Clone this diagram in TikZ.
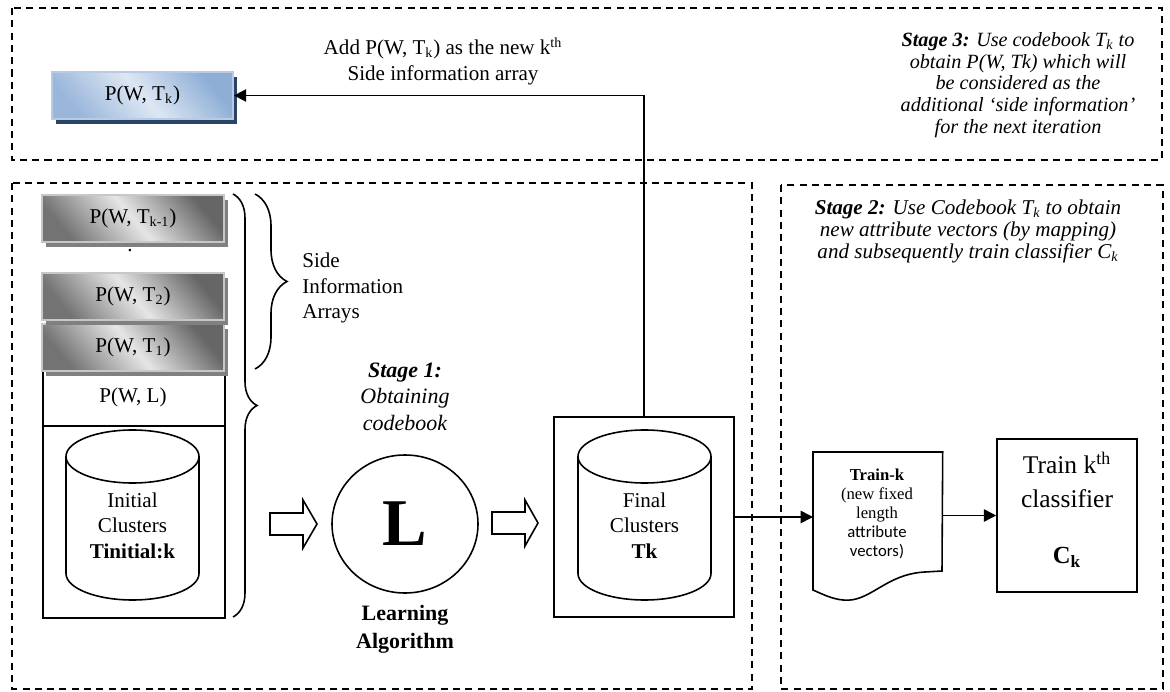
\documentclass[tikz,border=0pt]{standalone}
\usepackage{fontspec}
\setmainfont{Liberation Serif}
\newfontfamily\calibri{Carlito}
\usetikzlibrary{arrows.meta,shadows,decorations.pathreplacing,shapes.geometric}
\definecolor{navy}{HTML}{2A4468}
\definecolor{bluedark}{HTML}{8EAED6}
\definecolor{bluelight}{HTML}{DDE7F3}
\definecolor{blueborder}{HTML}{B7CBE4}
\begin{document}
\begin{tikzpicture}[x=0.02cm,y=-0.02cm,
  dashbox/.style={draw,line width=0.7pt,dash pattern=on 4pt off 3pt},
  blk/.style={draw,line width=0.9pt},
  arr/.style={line width=0.9pt,-{Triangle[length=7pt,width=7pt]}},
  hollow/.style={draw,line width=0.9pt,fill=white},
  txt/.style={align=center,inner sep=0pt,font=\fontsize{12}{14.5}\selectfont},
  bluebox/.style={draw=blueborder,line width=1pt,minimum width=181*0.02cm,minimum height=47*0.02cm,
    top color=bluedark,bottom color=bluedark!85!bluelight,middle color=bluelight,shading angle=-50,
    general shadow={fill=navy,shadow xshift=2pt,shadow yshift=-3pt},
    font=\fontsize{12}{14}\selectfont,inner sep=0pt},
  graybox/.style={draw=black!22,line width=1pt,minimum width=182*0.02cm,minimum height=47*0.02cm,
    top color=black!60,bottom color=black!55,middle color=black!10,shading angle=-50,
    general shadow={fill=black!50,shadow xshift=2pt,shadow yshift=-3pt},
    font=\fontsize{12}{14}\selectfont,inner sep=0pt},
  plainbox/.style={blk,fill=white,inner sep=0pt}
]
\useasboundingbox (0,0) rectangle (1170,692);

% stage frames
\draw[dashbox] (12,8) rectangle (1162,160);
\draw[dashbox] (12,183) rectangle (752,689);
\draw[dashbox] (781,185) rectangle (1163,689);

% top: new side information array
\node[bluebox] (pk) at (142.5,95.5) {P(W, T\textsubscript{k})};
\node[txt] (addtxt) at (443,61) {Add P(W, T\textsubscript{k}) as the new k\textsuperscript{th}\\Side information array};
\node[txt,font=\itshape\fontsize{11.5}{12.4}\selectfont] (s3) at (1018,85)
  {\textbf{Stage 3:} Use codebook \textit{T}\textsubscript{\textit{k}} to\\obtain P(W, Tk) which will\\be considered as the\\additional ‘side information’\\for the next iteration};

% left stack
\node[plainbox,minimum width=182*0.02cm,minimum height=248*0.02cm,anchor=north west] (stack) at (42,369) {};
\draw[blk] (42,426) -- (224,426);
\node[txt] (pwl) at (133,397.5) {P(W, L)};
\node[graybox] (t1) at (133,347.5) {P(W, T\textsubscript{1})};
\node[graybox] (t2) at (133,296.5) {P(W, T\textsubscript{2})};
\node[graybox] (tk1) at (133,218.5) {P(W, T\textsubscript{k-1})};
\node[txt] (dot) at (130,251) {.};

% initial clusters cylinder
\draw[blk,fill=white] (66,456.5) -- (66,573.5) arc[start angle=180,end angle=0,x radius=66.5,y radius=26.5] -- (199,456.5);
\draw[blk] (132.5,456.5) ellipse[x radius=66.5,y radius=26.5];
\node[txt] (initc) at (132.5,525.5) {Initial\\Clusters\\\textbf{Tinitial:k}};

% braces
\draw[line width=0.9pt,decorate,decoration={brace,amplitude=32*0.02cm}] (255,194) -- (255,369);
\node[txt,align=left,anchor=west] (side) at (302,288) {Side\\Information\\Arrays};
\draw[line width=0.9pt,decorate,decoration={brace,amplitude=24*0.02cm}] (233,194) -- (233,617);

% stage 1
\draw[hollow] (270,513) -- (303,513) -- (303,500) -- (317,524) -- (303,548) -- (303,535) -- (270,535) -- cycle;
\node[draw,line width=0.9pt,ellipse,minimum width=146*0.02cm,minimum height=138*0.02cm,inner sep=0pt] (L) at (405,524)
  {\fontsize{38}{38}\selectfont\textbf{L}};
\node[txt,font=\itshape\fontsize{12.5}{15}\selectfont] (s1) at (405,396.5) {\textbf{Stage 1:}\\Obtaining\\codebook};
\node[txt,font=\bfseries\fontsize{12.5}{16}\selectfont] (la) at (405,629) {Learning\\Algorithm};
\draw[hollow] (492,512) -- (525,512) -- (525,500) -- (538,523) -- (525,546) -- (525,534) -- (492,534) -- cycle;

% final clusters
\node[plainbox,minimum width=180*0.02cm,minimum height=200*0.02cm] (final) at (644,517) {};
\draw[blk,fill=white] (578,456.5) -- (578,573.5) arc[start angle=180,end angle=0,x radius=66.5,y radius=26.5] -- (711,456.5);
\draw[blk] (644.5,456.5) ellipse[x radius=66.5,y radius=26.5];
\node[txt] (finc) at (644.5,525.5) {Final\\Clusters\\\textbf{Tk}};

% stage 2
\node[txt,font=\itshape\fontsize{12}{12.6}\selectfont] (s2) at (968,231.5)
  {\textbf{Stage 2:} Use Codebook \textit{T}\textsubscript{\textit{k}} to obtain\\new attribute vectors (by mapping)\\and subsequently train classifier \textit{C}\textsubscript{\textit{k}}};

\node[inner sep=0pt,minimum width=129*0.02cm,minimum height=138*0.02cm,anchor=north west] (doc) at (813,452) {};
\draw[blk] (doc.north west) -- (doc.north east) -- (942,571) -- (925,572)
  .. controls (885,574) and (870,603) .. (843,600) .. controls (832,599) and (822,594) .. (813,590) -- cycle;
\node[txt,font=\fontsize{9.5}{10.8}\selectfont] (doctxt) at (877,513.5)
  {\textbf{Train-k}\\(new fixed\\length\\{\calibri attribute}\\{\calibri vectors)}};

\node[plainbox,minimum width=140*0.02cm,minimum height=153*0.02cm] (cls) at (1067,515.5) {};
\node[txt,font=\fontsize{14.5}{19}\selectfont] (clstxt) at (1067,480) {Train k\textsuperscript{th}\\classifier};
\node[txt,font=\bfseries\fontsize{14}{16}\selectfont] (ck) at (1067,557) {C\textsubscript{k}};

% connectors
\draw[arr] (final.north) |- (pk.east);
\draw[arr] (final.east) -- (doc.west |- final.east);
\draw[arr] (doc.east |- cls.west) -- (cls.west);
\end{tikzpicture}
\end{document}
